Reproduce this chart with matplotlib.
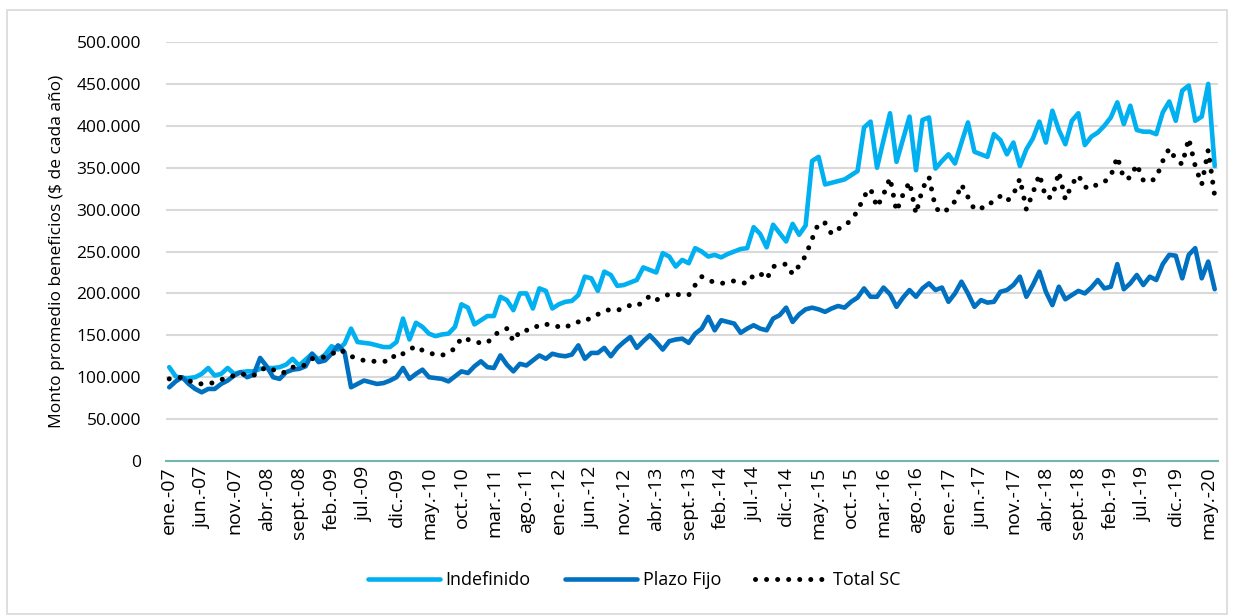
import numpy as np
import matplotlib
matplotlib.use("Agg")
import matplotlib.pyplot as plt
from matplotlib.ticker import FuncFormatter
from matplotlib.patches import Rectangle

plt.rcParams['font.family'] = ['Open Sans', 'DejaVu Sans']

# Valores en miles de $ (ene-07 a jun-20, mensual)
indefinido = [
    112, 101, 99, 99, 100, 104, 111, 102, 104, 111, 104, 106, 107, 107, 110, 111, 111, 112, 115, 122,
    114, 121, 128, 121, 127, 137, 133, 140, 158, 142, 141, 140, 138, 136, 136, 142, 170, 145, 165, 160,
    152, 149, 151, 152, 160, 187, 183, 163, 168, 173, 173, 196, 192, 180, 200, 200, 182, 206, 203, 182,
    187, 190, 191, 198, 220, 218, 203, 226, 222, 209, 210, 213, 216, 231, 228, 225, 248, 244, 232, 240,
    236, 254, 250, 244, 246, 243, 247, 250, 253, 254, 279, 271, 255, 282, 272, 262, 283, 270, 281, 358,
    363, 330, 332, 334, 336, 341, 346, 398, 405, 350, 383, 415, 357, 384, 411, 347, 407, 410, 349, 358,
    366, 355, 380, 404, 369, 366, 363, 390, 383, 366, 380, 352, 372, 385, 405, 380, 418, 395, 378, 406,
    415, 377, 387, 392, 400, 410, 428, 402, 424, 395, 393, 393, 390, 416, 429, 406, 442, 448, 406, 411,
    450, 352,
]
plazo_fijo = [
    88, 95, 100, 92, 86, 82, 86, 86, 92, 96, 102, 106, 100, 103, 123, 113, 100, 98, 106, 109,
    110, 113, 128, 118, 120, 128, 138, 130, 88, 92, 96, 94, 92, 93, 96, 100, 111, 98, 104, 109,
    100, 99, 98, 95, 101, 107, 105, 113, 119, 112, 111, 126, 115, 107, 116, 114, 120, 126, 122, 128,
    126, 125, 127, 138, 122, 129, 129, 135, 125, 135, 142, 148, 135, 143, 150, 142, 133, 143, 145, 146,
    141, 152, 158, 172, 156, 168, 166, 164, 153, 158, 162, 158, 156, 170, 174, 183, 166, 175, 181, 183,
    181, 178, 182, 185, 183, 190, 195, 206, 196, 196, 207, 199, 184, 195, 204, 196, 206, 212, 204, 207,
    190, 200, 214, 200, 184, 192, 189, 190, 202, 204, 210, 220, 196, 210, 226, 202, 186, 208, 193, 198,
    203, 200, 207, 216, 206, 208, 235, 205, 212, 222, 210, 220, 216, 235, 246, 245, 218, 246, 254, 218,
    238, 205,
]
total_sc = [
    98, 99, 100, 96, 93, 92, 92, 94, 97, 100, 102, 104, 103, 102, 108, 112, 109, 105, 106, 112,
    112, 115, 122, 124, 124, 127, 133, 130, 125, 122, 120, 119, 119, 119, 119, 129, 128, 133, 137, 132,
    129, 127, 126, 130, 134, 147, 145, 142, 141, 141, 150, 155, 158, 143, 155, 156, 157, 163, 163, 163,
    160, 159, 164, 166, 166, 172, 175, 179, 181, 180, 182, 186, 185, 190, 197, 192, 196, 199, 199, 198,
    198, 210, 220, 216, 213, 212, 213, 215, 213, 212, 222, 224, 217, 232, 234, 235, 223, 233, 245, 265,
    284, 284, 271, 277, 280, 288, 298, 316, 325, 303, 318, 338, 298, 318, 333, 295, 325, 339, 302, 296,
    301, 310, 330, 315, 300, 302, 303, 312, 316, 310, 318, 337, 300, 320, 342, 314, 315, 345, 312, 330,
    341, 327, 325, 331, 333, 340, 363, 337, 338, 354, 335, 333, 338, 358, 373, 360, 354, 385, 352, 330,
    371, 316,
]

meses = ['ene.', 'feb.', 'mar.', 'abr.', 'may.', 'jun.', 'jul.', 'ago.', 'sept.', 'oct.', 'nov.', 'dic.']
anio_inicio = 2007

n = len(indefinido)
etiquetas = [f"{meses[i % 12]}-{(anio_inicio + i // 12) % 100:02d}" for i in range(n)]
x = np.arange(n)

fig = plt.figure(figsize=(12.34, 6.16), dpi=100)
ax = fig.add_axes([0.1345, 0.2516, 0.8525, 0.6802])

# borde del area del grafico
fig.patches.append(Rectangle((0.006, 0.004), 0.988, 0.98, transform=fig.transFigure,
                             fill=False, edgecolor='#D9D9D9', linewidth=1.2))

ax.plot(x, np.array(indefinido) * 1000, color='#00B0F0', lw=3.3,
        solid_joinstyle='round', solid_capstyle='round', label='Indefinido', zorder=3)
ax.plot(x, np.array(plazo_fijo) * 1000, color='#0070C0', lw=3.3,
        solid_joinstyle='round', solid_capstyle='round', label='Plazo Fijo', zorder=3)
ax.plot(x, np.array(total_sc) * 1000, color='black', lw=3.6,
        linestyle=(0, (0.01, 2.2)), dash_capstyle='round', label='Total SC', zorder=4)

ax.set_xlim(-0.5, n - 0.5)
ax.set_ylim(0, 500000)
ax.set_yticks(np.arange(0, 500001, 50000))
ax.yaxis.set_major_formatter(FuncFormatter(lambda v, _: f"{v:,.0f}".replace(",", ".")))
ax.grid(axis='y', color='#D9D9D9', lw=1.5)
ax.set_axisbelow(True)

ax.set_xticks(x[::5])
ax.set_xticklabels(etiquetas[::5], rotation=90, fontsize=14)
ax.tick_params(axis='x', length=0, pad=4)
ax.tick_params(axis='y', length=0, pad=18, labelsize=12.5)

for s in ['top', 'right', 'left']:
    ax.spines[s].set_visible(False)
ax.spines['bottom'].set_color('#6FB7B0')
ax.spines['bottom'].set_linewidth(1.5)

ax.set_ylabel('Monto promedio beneficios ($ de cada año)', fontsize=12.5, labelpad=8)

fig.legend(loc='center', bbox_to_anchor=(0.514, 0.058), ncol=3, frameon=False,
           fontsize=13, handlelength=4.0, columnspacing=1.9, handletextpad=0.3)

fig.savefig('out.png', dpi=100)
